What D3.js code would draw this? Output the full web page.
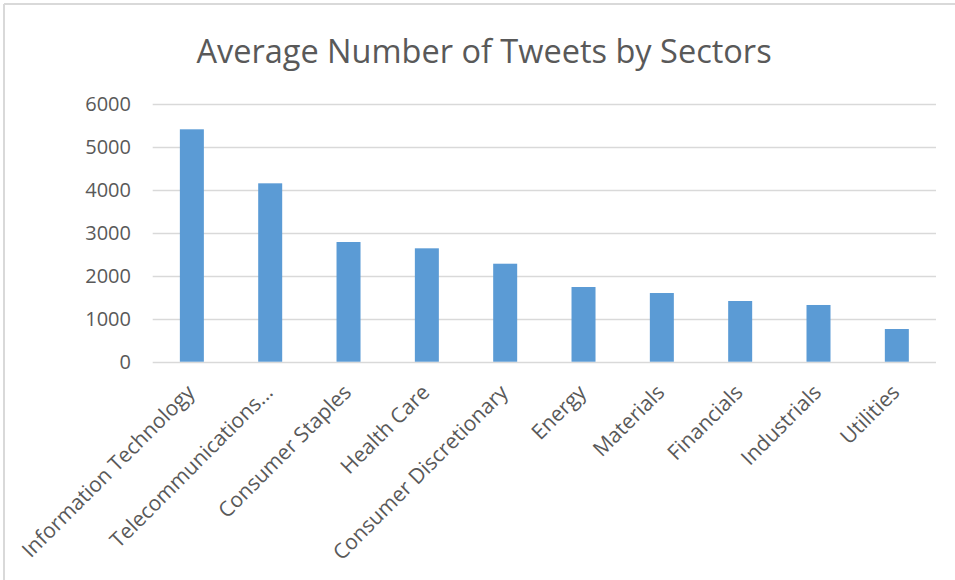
<!DOCTYPE html>
<html>
<head>
<meta charset="utf-8">
<script src="https://cdn.jsdelivr.net/npm/d3@7"></script>
<style>
  body { margin: 0; background: #fff; }
  svg { display: block; }
  text { font-family: "Open Sans", sans-serif; fill: #595959; }
</style>
</head>
<body>
<svg id="chart" width="955" height="580"></svg>
<script>
const categories = ["Information Technology", "Telecommunications...", "Consumer Staples", "Health Care", "Consumer Discretionary", "Energy", "Materials", "Financials", "Industrials", "Utilities"];
const values = [5417, 4158, 2790, 2643, 2284, 1741, 1601, 1415, 1322, 762];
const yTicks = [0, 1000, 2000, 3000, 4000, 5000, 6000];
const title = "Average Number of Tweets by Sectors";

const svg = d3.select("#chart");
const W = 955, H = 580;
const plot = { left: 152.7, right: 936, top: 104.3, bottom: 361.7 };

// frame
svg.append("line").attr("x1", 4).attr("x2", W).attr("y1", 4).attr("y2", 4)
  .attr("stroke", "#d9d9d9").attr("stroke-width", 2);
svg.append("line").attr("x1", 4).attr("x2", 4).attr("y1", 4).attr("y2", H)
  .attr("stroke", "#d9d9d9").attr("stroke-width", 2);

const x = d3.scaleBand().domain(categories).range([plot.left, plot.right])
  .paddingInner(0.6936).paddingOuter(0.3468);
const y = d3.scaleLinear().domain([0, 6000]).range([plot.bottom, plot.top]);

// gridlines
svg.append("g").selectAll("line").data(yTicks).join("line")
  .attr("x1", plot.left).attr("x2", plot.right)
  .attr("y1", d => Math.round(y(d)) + 0.5).attr("y2", d => Math.round(y(d)) + 0.5)
  .attr("stroke", "#d9d9d9").attr("stroke-width", 1.3);

// y axis labels
const yAxis = d3.axisLeft(y).tickValues(yTicks).tickSize(0).tickPadding(0).tickFormat(d3.format("d"));
const gy = svg.append("g").attr("transform", `translate(131,0)`).call(yAxis);
gy.select(".domain").remove();
gy.selectAll("text").attr("font-size", 20).style("fill", "#595959")
  .attr("font-family", "Open Sans, sans-serif");

// bars
svg.append("g").selectAll("rect").data(values).join("rect")
  .attr("x", (d, i) => x(categories[i]))
  .attr("width", x.bandwidth())
  .attr("y", d => y(d))
  .attr("height", d => y(0) - y(d))
  .attr("fill", "#5b9bd5");

// x axis labels
const xAxis = d3.axisBottom(x).tickSize(0).tickPadding(0);
const gx = svg.append("g").attr("transform", `translate(0,${plot.bottom})`).call(xAxis);
gx.select(".domain").remove();
gx.selectAll(".tick text")
  .attr("font-size", 21)
  .attr("font-family", "Open Sans, sans-serif")
  .style("fill", "#595959")
  .attr("text-anchor", "end")
  .attr("dy", null)
  .attr("y", 0)
  .attr("transform", "translate(4,32) rotate(-45)");

// title
svg.append("text").attr("x", 484).attr("y", 63).attr("text-anchor", "middle")
  .attr("font-size", 32.5).attr("font-weight", 400).text(title);
</script>
</body>
</html>
